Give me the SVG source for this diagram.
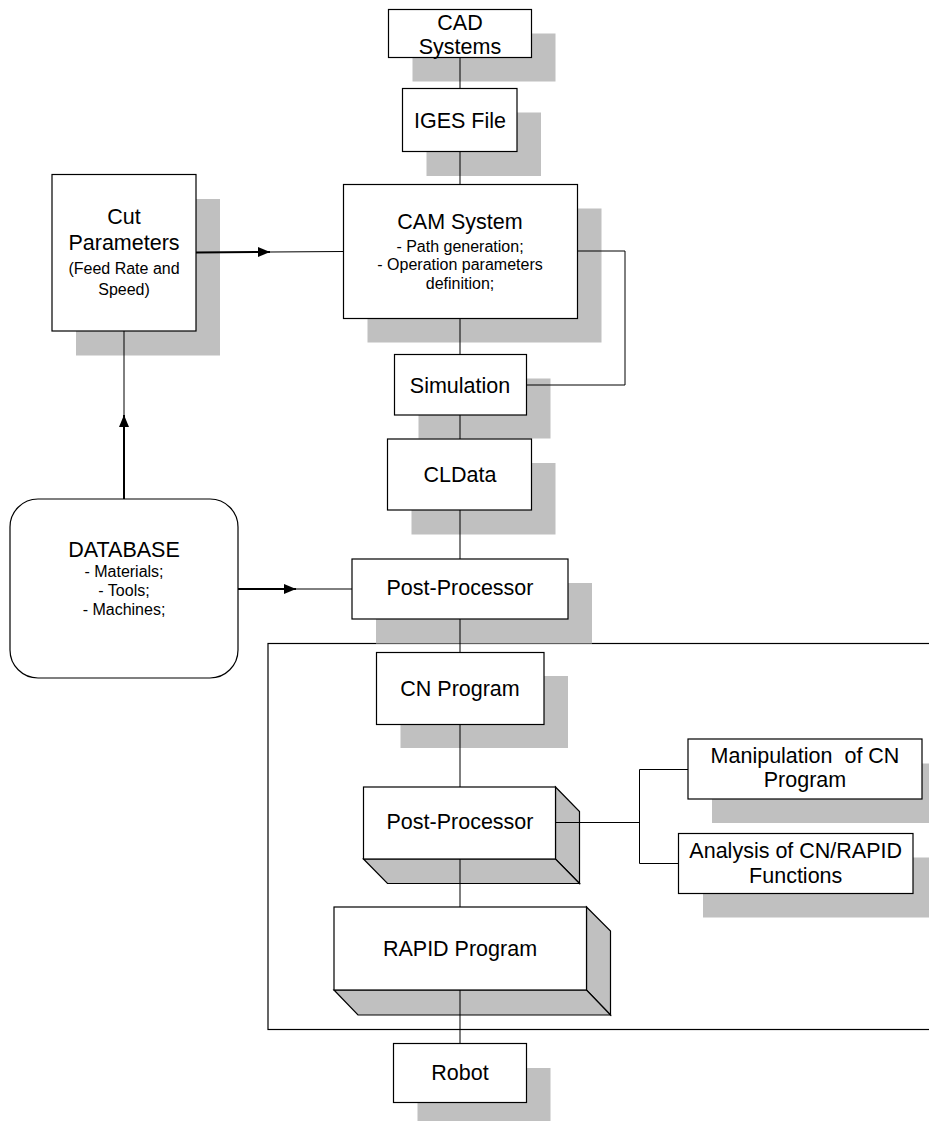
<svg xmlns="http://www.w3.org/2000/svg" width="929" height="1121" viewBox="0 0 929 1121">
<style>
  .box { fill: #ffffff; stroke: #000000; stroke-width: 1.2; }
  .shadow { fill: #c0c0c0; stroke: none; }
  .face { fill: #c0c0c0; stroke: #000000; stroke-width: 1.2; stroke-linejoin: miter; }
  .t { font-family: "Liberation Sans", Arial, sans-serif; font-size: 21.5px; fill: #000000; text-anchor: middle; white-space: pre; }
  .s { font-family: "Liberation Sans", Arial, sans-serif; font-size: 16px; fill: #000000; text-anchor: middle; white-space: pre; }
  .ln { fill: none; stroke: #000000; stroke-width: 1; }
  .thick { fill: none; stroke: #000000; stroke-width: 2; }
  .frame { fill: none; stroke: #000000; stroke-width: 1.2; }
</style>
<defs>
  <marker id="arr" markerUnits="userSpaceOnUse" markerWidth="12" markerHeight="10" refX="12" refY="5" orient="auto">
    <path d="M0,0 L12,5 L0,10 Z" fill="#000000"/>
  </marker>
</defs>
<rect x="0" y="0" width="929" height="1121" fill="#ffffff"/>

<g id="frame">
  <rect class="frame" x="268" y="643.5" width="680" height="386"/>
</g>

<g id="cad">
  <rect class="shadow" x="412.5" y="33.5" width="143" height="48"/>
  <rect class="box" x="388.5" y="9.5" width="143" height="48"/>
  <text class="t" x="460" y="29.5">CAD</text>
  <text class="t" x="460" y="53.5">Systems</text>
</g>

<g id="iges">
  <rect class="shadow" x="426.5" y="112.5" width="114.5" height="63.5"/>
  <rect class="box" x="402.5" y="88.5" width="114.5" height="63"/>
  <text class="t" x="460" y="127.7">IGES File</text>
</g>

<g id="cam">
  <rect class="shadow" x="367.5" y="208.5" width="234" height="134"/>
  <rect class="box" x="343.5" y="184.5" width="234" height="134"/>
  <text class="t" x="460" y="229">CAM System</text>
  <text class="s" x="460" y="251.5">- Path generation;</text>
  <text class="s" x="460" y="270">- Operation parameters</text>
  <text class="s" x="460" y="288.5">definition;</text>
</g>

<g id="cut">
  <rect class="shadow" x="76" y="199" width="144" height="156.5"/>
  <rect class="box" x="52" y="174.5" width="144" height="156.5"/>
  <text class="t" x="124" y="224.3">Cut</text>
  <text class="t" x="124" y="250">Parameters</text>
  <text class="s" x="124" y="274">(Feed Rate and</text>
  <text class="s" x="124" y="295">Speed)</text>
</g>

<g id="simulation">
  <rect class="shadow" x="418.5" y="378.5" width="132" height="60"/>
  <rect class="box" x="394.5" y="354.5" width="132" height="60.5"/>
  <text class="t" x="460" y="392.7">Simulation</text>
</g>

<g id="cldata">
  <rect class="shadow" x="411.5" y="463" width="144" height="71.5"/>
  <rect class="box" x="387.5" y="439" width="144" height="71"/>
  <text class="t" x="460" y="481.7">CLData</text>
</g>

<g id="database">
  <rect class="box" x="10" y="499" width="228" height="179" rx="28" ry="28"/>
  <text class="t" x="124" y="557.3">DATABASE</text>
  <text class="s" x="124" y="577.3">- Materials;</text>
  <text class="s" x="124" y="596">- Tools;</text>
  <text class="s" x="124" y="615">- Machines;</text>
</g>

<g id="postprocessor1">
  <rect class="shadow" x="376" y="583" width="216" height="60.5"/>
  <rect class="box" x="352" y="559" width="216" height="60"/>
  <text class="t" x="460" y="595">Post-Processor</text>
</g>

<g id="cnprogram">
  <rect class="shadow" x="400.5" y="676" width="167.5" height="72"/>
  <rect class="box" x="376.5" y="652.5" width="167.5" height="72"/>
  <text class="t" x="460" y="695.7">CN Program</text>
</g>

<g id="postprocessor2">
  <polygon class="face" points="555.5,787 579.5,811.5 579.5,883.5 555.5,859"/>
  <polygon class="face" points="363.5,859 555.5,859 579.5,883.5 387.5,883.5"/>
  <rect class="box" x="363.5" y="787" width="192" height="72"/>
  <text class="t" x="460" y="829.3">Post-Processor</text>
</g>

<g id="manipulation">
  <rect class="shadow" x="712" y="763.5" width="234" height="59.5"/>
  <rect class="box" x="688" y="739" width="234" height="60"/>
  <text class="t" x="805" y="763.3">Manipulation  of CN</text>
  <text class="t" x="805" y="787.3">Program</text>
</g>

<g id="analysis">
  <rect class="shadow" x="703" y="857.5" width="234.5" height="60"/>
  <rect class="box" x="678.5" y="833.5" width="234.5" height="60"/>
  <text class="t" x="795.7" y="857.7">Analysis of CN/RAPID</text>
  <text class="t" x="795.7" y="883.3">Functions</text>
</g>

<g id="rapid">
  <polygon class="face" points="586.5,907 610.5,931 610.5,1015 586.5,990"/>
  <polygon class="face" points="334,990 586.5,990 610.5,1015 358,1015"/>
  <rect class="box" x="334" y="907" width="252.5" height="83"/>
  <text class="t" x="460" y="956">RAPID Program</text>
</g>

<g id="robot">
  <rect class="shadow" x="417.5" y="1068" width="133" height="59"/>
  <rect class="box" x="393.5" y="1043.5" width="133" height="59"/>
  <text class="t" x="460" y="1080">Robot</text>
</g>

<g id="connectors">
  <line class="ln" x1="460" y1="57.5" x2="460" y2="88.5"/>
  <line class="ln" x1="460" y1="151.5" x2="460" y2="184.5"/>
  <line class="ln" x1="460" y1="318.5" x2="460" y2="354.5"/>
  <line class="ln" x1="460" y1="415" x2="460" y2="439"/>
  <line class="ln" x1="460" y1="510" x2="460" y2="559"/>
  <line class="ln" x1="460" y1="619" x2="460" y2="652.5"/>
  <line class="ln" x1="460" y1="724.5" x2="460" y2="787"/>
  <line class="ln" x1="460" y1="859" x2="460" y2="907"/>
  <line class="ln" x1="460" y1="990" x2="460" y2="1043.5"/>
  <polyline class="ln" points="577.5,251 625,251 625,385 526.5,385"/>
  <line class="thick" x1="196" y1="252.5" x2="270" y2="252"/>
  <line class="ln" x1="270" y1="252" x2="343.5" y2="251.5"/>
  <line class="thick" x1="238" y1="589" x2="296" y2="589"/>
  <line class="ln" x1="296" y1="589" x2="352" y2="589"/>
  <line class="thick" x1="124" y1="499" x2="124" y2="415"/>
  <line class="ln" x1="124" y1="415" x2="124" y2="331"/>
  <polyline class="ln" points="555.5,822.5 639.5,822.5"/>
  <polyline class="ln" points="688,769.5 639.5,769.5 639.5,863.5 678.5,863.5"/>
  <path d="M258,247 L270,252 L258,257 Z" fill="#000000"/>
  <path d="M284,584 L296,589 L284,594 Z" fill="#000000"/>
  <path d="M119,427 L124,415 L129,427 Z" fill="#000000"/>
</g>
</svg>
